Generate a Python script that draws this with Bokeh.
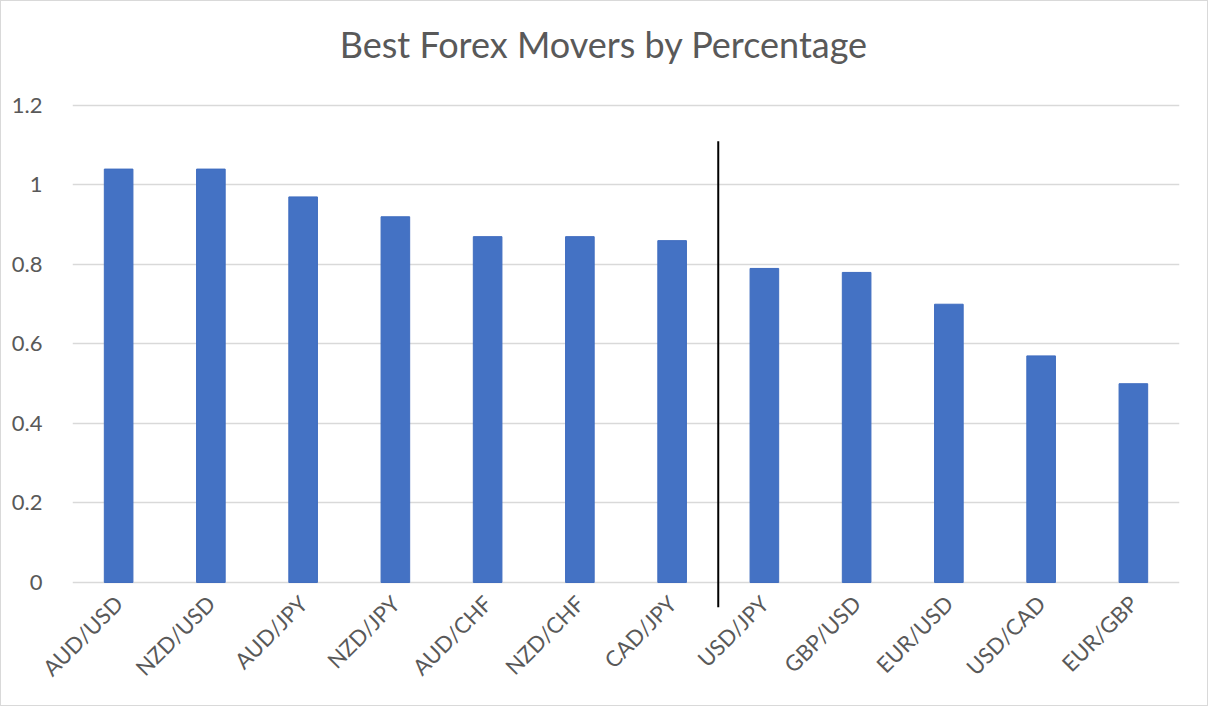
from bokeh.plotting import figure
from bokeh.models import Range1d, FixedTicker, ColumnDataSource, LinearAxis
from bokeh.embed import file_html
from bokeh.resources import INLINE

# ---- data ----
pairs = ["AUD/USD", "NZD/USD", "AUD/JPY", "NZD/JPY", "AUD/CHF", "NZD/CHF",
         "CAD/JPY", "USD/JPY", "GBP/USD", "EUR/USD", "USD/CAD", "EUR/GBP"]
moves = [1.04, 1.04, 0.97, 0.92, 0.87, 0.87, 0.86, 0.79, 0.78, 0.70, 0.57, 0.50]
y_ticks = [0, 0.2, 0.4, 0.6, 0.8, 1.0, 1.2]
y_tick_labels = ["0", "0.2", "0.4", "0.6", "0.8", "1", "1.2"]
divider_after = "CAD/JPY"
divider_top = 1.11
divider_bottom = -0.063

TITLE = "Best Forex Movers by Percentage"
FONT = "Lato"
GRAY = "#595959"
BLUE = "#4472C4"

n = len(pairs)
xs = [i + 0.5 for i in range(n)]
src = ColumnDataSource(dict(x=xs, top=moves, pair=pairs))

p = figure(width=1208, height=706, output_backend="svg", toolbar_location=None,
           x_range=Range1d(0, n), y_range=Range1d(divider_bottom, 1.205),
           min_border_left=71, min_border_right=30,
           min_border_top=102, min_border_bottom=100)

p.outline_line_color = None
p.border_fill_color = "white"
p.background_fill_color = "white"

# chart title, drawn as the single label of an axis above the plot area
title_pos = 5.76
title_axis = LinearAxis(ticker=FixedTicker(ticks=[title_pos]),
                        major_label_overrides={title_pos: TITLE})
title_axis.axis_line_color = None
title_axis.major_tick_line_color = None
title_axis.minor_tick_line_color = None
title_axis.major_label_standoff = 32
title_axis.major_label_text_font = FONT
title_axis.major_label_text_font_size = "36px"
title_axis.major_label_text_color = GRAY
p.add_layout(title_axis, "above")

p.vbar(x="x", top="top", bottom=0, width=0.31, source=src,
       fill_color=BLUE, line_color="#3F6CBF", line_width=1)

# divider line
dx = pairs.index(divider_after) + 1
p.segment(x0=[dx], x1=[dx], y0=[divider_bottom], y1=[divider_top],
          line_color="black", line_width=2)

# axes
p.below[0].ticker = FixedTicker(ticks=xs)
p.below[0].major_label_overrides = {x: lab for x, lab in zip(xs, pairs)}
p.below[0].major_label_orientation = 0.785398
p.below[0].axis_line_color = None
p.below[0].major_tick_line_color = None
p.below[0].minor_tick_line_color = None
p.below[0].major_label_standoff = -14
p.below[0].major_label_text_font = FONT
p.below[0].major_label_text_font_size = "22px"
p.below[0].major_label_text_color = GRAY

p.yaxis.ticker = FixedTicker(ticks=y_ticks)
p.yaxis.major_label_overrides = {t: l for t, l in zip(y_ticks, y_tick_labels)}
p.yaxis.axis_line_color = None
p.yaxis.major_tick_line_color = None
p.yaxis.minor_tick_line_color = None
p.yaxis.major_label_standoff = 24
p.yaxis.major_label_text_font = FONT
p.yaxis.major_label_text_font_size = "22px"
p.yaxis.major_label_text_color = GRAY

p.xgrid.grid_line_color = None
p.ygrid.ticker = FixedTicker(ticks=y_ticks)
p.ygrid.grid_line_color = "#D9D9D9"
p.ygrid.grid_line_width = 1.3

p.styles = {"border": "1px solid #D9D9D9"}

open("out.html", "w").write(file_html(p, INLINE))
